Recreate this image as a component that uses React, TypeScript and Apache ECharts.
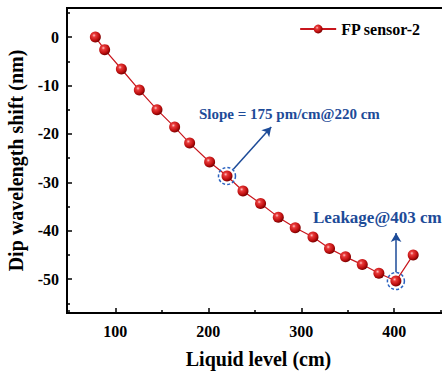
import React, { useEffect, useRef } from "react";
import * as echarts from "echarts";

const levels = [78.5, 88.5, 106.5, 125.8, 144.8, 163.8, 179.9, 201.4, 220.1, 237.3, 256.2, 275.3, 293.5, 312.6, 330.4, 347.6, 365.6, 383.5, 401.8, 420.4];
const shifts = [0, -2.6, -6.6, -10.95, -15.0, -18.6, -21.9, -25.8, -28.7, -31.8, -34.4, -37.2, -39.4, -41.3, -43.7, -45.4, -47.0, -48.8, -50.4, -45.0];
const xMajorTicks = [100, 200, 300, 400];
const xMinorTicks = [50, 150, 250, 350, 450];
const yMajorTicks = [-50, -40, -30, -20, -10, 0];
const yMinorTicks = [-55, -45, -35, -25, -15, -5, 5];
const seriesName = "FP sensor-2";
const slopeText = "Slope = 175 pm/cm@220 cm";
const leakText = "Leakage@403 cm";
const slopeIndex = 8;
const leakIndex = 18;
const slopeArrow = [[226.9, -27.3], [267.7, -18.6]];
const leakArrow = [[402, -48.6], [402, -40.5]];

const FONT = "'Liberation Serif', 'Times New Roman', serif";
const BLUE = "#1d4b98";
const RED = "#c8161d";

export default function App() {
  const ref = useRef<HTMLDivElement>(null);
  useEffect(() => {
    if (!ref.current) return;
    const chart = echarts.init(ref.current, null, { renderer: "svg" });
    const sphere = new echarts.graphic.RadialGradient(0.38, 0.35, 0.65, [
      { offset: 0, color: "#ffc4c4" },
      { offset: 0.25, color: "#e83a3a" },
      { offset: 0.7, color: "#c01010" },
      { offset: 1, color: "#7a0000" },
    ]);
    const data = levels.map((x, i) => [x, shifts[i]]);
    const commonX = {
      type: "value",
      min: 48,
      max: 460,
      position: "bottom",
      splitLine: { show: false },
    };
    const commonY = {
      type: "value",
      min: -57,
      max: 6,
      position: "left",
      splitLine: { show: false },
    };
    chart.setOption({
      animation: false,
      grid: {
        left: 67, top: 8, right: -8, bottom: 62, show: true, borderColor: "#000", borderWidth: 2,
        containLabel: false, outerBoundsMode: "none",
      },
      legend: {
        data: [seriesName],
        right: 16,
        top: 16,
        itemWidth: 36,
        itemHeight: 11,
        textStyle: { fontFamily: FONT, fontWeight: "bold", fontSize: 16, color: "#000" },
      },
      xAxis: [
        {
          ...commonX,
          name: "Liquid level (cm)",
          nameLocation: "middle",
          nameGap: 36,
          nameTextStyle: { fontFamily: FONT, fontWeight: "bold", fontSize: 20, color: "#000" },
          axisLine: { show: true, onZero: false, lineStyle: { color: "#000", width: 2 } },
          axisTick: { show: true, inside: true, length: 5, customValues: xMajorTicks, lineStyle: { color: "#000", width: 1.5 } },
          axisLabel: {
            show: true, fontFamily: FONT, fontWeight: "bold", fontSize: 16, color: "#000", margin: 10,
            customValues: xMajorTicks,
          },
        },
        {
          ...commonX,
          axisLine: { show: false, onZero: false },
          axisTick: { show: true, inside: true, length: 3, customValues: xMinorTicks, lineStyle: { color: "#000", width: 1.5 } },
          axisLabel: { show: false },
        },
      ],
      yAxis: [
        {
          ...commonY,
          name: "Dip wavelength shift (nm)",
          nameLocation: "middle",
          nameGap: 41,
          nameTextStyle: { fontFamily: FONT, fontWeight: "bold", fontSize: 20, color: "#000" },
          axisLine: { show: true, onZero: false, lineStyle: { color: "#000", width: 2 } },
          axisTick: { show: true, inside: true, length: 5, customValues: yMajorTicks, lineStyle: { color: "#000", width: 1.5 } },
          axisLabel: {
            show: true, fontFamily: FONT, fontWeight: "bold", fontSize: 16, color: "#000", margin: 8,
            customValues: yMajorTicks,
          },
        },
        {
          ...commonY,
          axisLine: { show: false, onZero: false },
          axisTick: { show: true, inside: true, length: 3, customValues: yMinorTicks, lineStyle: { color: "#000", width: 1.5 } },
          axisLabel: { show: false },
        },
      ],
      series: [
        {
          name: seriesName,
          type: "line",
          data,
          symbol: "circle",
          symbolSize: 11,
          lineStyle: { color: RED, width: 1.2 },
          itemStyle: { color: sphere, borderWidth: 0 },
          markLine: {
            silent: true,
            symbol: ["none", "arrow"],
            symbolSize: [8, 9],
            label: { show: false },
            lineStyle: { color: BLUE, width: 1.5, type: "solid" },
            data: [
              [{ coord: slopeArrow[0] }, { coord: slopeArrow[1] }],
              [{ coord: leakArrow[0] }, { coord: leakArrow[1] }],
            ],
          },
          markPoint: {
            silent: true,
            symbol: "circle",
            symbolSize: 17,
            label: { show: false },
            itemStyle: { color: "rgba(0,0,0,0)", borderColor: "#2a62c0", borderWidth: 1.5, borderType: [3, 2] },
            data: [
              { coord: data[slopeIndex] },
              { coord: data[leakIndex] },
            ],
          },
          z: 3,
        },
      ],
      graphic: [
        {
          type: "text", left: 199, top: 106, z: 10,
          style: { text: slopeText, fill: BLUE, font: `bold 15px ${FONT}` },
        },
        {
          type: "text", left: 313, top: 209, z: 10,
          style: { text: leakText, fill: BLUE, font: `bold 17px ${FONT}` },
        },
      ],
    });
    return () => chart.dispose();
  }, []);
  return <div ref={ref} style={{ width: 442, height: 375, position: "absolute", left: 0, top: 0 }} />;
}
